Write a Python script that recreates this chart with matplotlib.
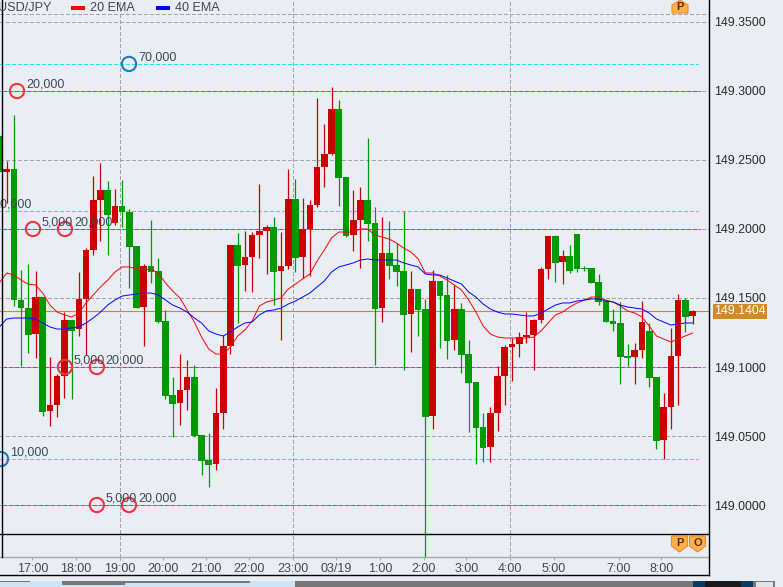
import matplotlib
matplotlib.use('Agg')
import matplotlib.pyplot as plt
from matplotlib.lines import Line2D
from matplotlib.patches import Polygon, Rectangle

W, H = 783, 587
BG = '#e9edf4'

opens = [149.2674, 149.2413, 149.2434, 149.1485, 149.1427, 149.1239, 149.1507, 149.0681, 149.0725, 149.0935,
         149.1341, 149.1275, 149.1492, 149.1847, 149.2210, 149.2282, 149.2043, 149.2167, 149.2123, 149.1877,
         149.1435, 149.1731, 149.1695, 149.1333, 149.0797, 149.0739, 149.0833, 149.0928, 149.0507, 149.0326,
         149.0297, 149.0667, 149.1152, 149.1884, 149.1739, 149.1797, 149.1956, 149.1985, 149.2014, 149.1695,
         149.1731, 149.2217, 149.1797, 149.2000, 149.2174, 149.2449, 149.2543, 149.2869, 149.2377, 149.1956,
         149.2065, 149.2210, 149.2043, 149.1427, 149.1826, 149.1739, 149.1695, 149.1384, 149.1565, 149.1420,
         149.0645, 149.1623, 149.1522, 149.1196, 149.1420, 149.1094, 149.0891, 149.0565, 149.0420, 149.0667,
         149.0935, 149.1145, 149.1167, 149.1217, 149.1232, 149.1341, 149.1710, 149.1949, 149.1761, 149.1804,
         149.1964, 149.1717, 149.1717, 149.1616, 149.1478, 149.1333, 149.1319, 149.1080, 149.1072, 149.1123,
         149.1261, 149.0928, 149.0471, 149.0710, 149.1080, 149.1485, 149.1370]
highs = [149.2674, 149.2493, 149.2826, 149.1702, 149.1746, 149.1695, 149.1507, 149.1073, 149.0949, 149.1399,
         149.1341, 149.1688, 149.1862, 149.2384, 149.2478, 149.2348, 149.2289, 149.2355, 149.2144, 149.1877,
         149.1746, 149.2065, 149.1790, 149.1413, 149.0928, 149.1094, 149.1051, 149.1014, 149.0507, 149.0522,
         149.0848, 149.1232, 149.1884, 149.1971, 149.1985, 149.1978, 149.2326, 149.2029, 149.2087, 149.1978,
         149.2435, 149.2362, 149.2225, 149.2210, 149.2949, 149.2761, 149.3029, 149.2935, 149.2377, 149.2282,
         149.2304, 149.2659, 149.2159, 149.2087, 149.2058, 149.1898, 149.2130, 149.1695, 149.1565, 149.1493,
         149.1703, 149.1623, 149.1667, 149.1594, 149.1464, 149.1196, 149.0891, 149.0667, 149.0710, 149.1007,
         149.1159, 149.1210, 149.1254, 149.1398, 149.1348, 149.1725, 149.1949, 149.1956, 149.1848, 149.1884,
         149.1964, 149.1731, 149.1717, 149.1674, 149.1478, 149.1420, 149.1471, 149.1167, 149.1174, 149.1478,
         149.1319, 149.0928, 149.0812, 149.1283, 149.1529, 149.1500, 149.1413]
lows = [149.2413, 149.2188, 149.1442, 149.1007, 149.1101, 149.1066, 149.0645, 149.0572, 149.0638, 149.0776,
        149.0768, 149.1225, 149.1087, 149.1811, 149.1913, 149.1811, 149.2029, 149.2014, 149.1572, 149.1427,
        149.1152, 149.1608, 149.1320, 149.0768, 149.0493, 149.0580, 149.0688, 149.0493, 149.0217, 149.0130,
        149.0254, 149.0551, 149.1094, 149.1319, 149.1551, 149.1543, 149.1790, 149.1674, 149.1449, 149.1196,
        149.1710, 149.1688, 149.1645, 149.1659, 149.2159, 149.2304, 149.2535, 149.2167, 149.1942, 149.1840,
        149.1717, 149.1913, 149.1014, 149.1326, 149.1638, 149.1587, 149.0978, 149.1109, 149.1225, 148.9623,
        149.0551, 149.1138, 149.1058, 149.1123, 149.0956, 149.0529, 149.0297, 149.0312, 149.0312, 149.0536,
        149.0725, 149.0899, 149.1072, 149.1174, 149.0978, 149.1319, 149.1638, 149.1616, 149.1601, 149.1681,
        149.1688, 149.1695, 149.1609, 149.1449, 149.1326, 149.1261, 149.0877, 149.1007, 149.0877, 149.1065,
        149.0855, 149.0406, 149.0333, 149.0551, 149.0725, 149.1254, 149.1312]
closes = [149.2413, 149.2434, 149.1485, 149.1427, 149.1232, 149.1507, 149.0674, 149.0725, 149.0935, 149.1341,
          149.1261, 149.1492, 149.1847, 149.2210, 149.2282, 149.2101, 149.2167, 149.2123, 149.1869, 149.1427,
          149.1731, 149.1688, 149.1327, 149.0790, 149.0732, 149.0833, 149.0928, 149.0500, 149.0319, 149.0290,
          149.0667, 149.1152, 149.1884, 149.1731, 149.1797, 149.1956, 149.1985, 149.2014, 149.1688, 149.1731,
          149.2217, 149.1790, 149.2000, 149.2174, 149.2449, 149.2543, 149.2869, 149.2369, 149.1949, 149.2065,
          149.2210, 149.2036, 149.1420, 149.1826, 149.1731, 149.1688, 149.1377, 149.1565, 149.1413, 149.0638,
          149.1623, 149.1514, 149.1188, 149.1420, 149.1087, 149.0884, 149.0558, 149.0413, 149.0667, 149.0935,
          149.1145, 149.1167, 149.1217, 149.1232, 149.1341, 149.1710, 149.1949, 149.1754, 149.1804, 149.1695,
          149.1710, 149.1710, 149.1609, 149.1471, 149.1326, 149.1312, 149.1072, 149.1065, 149.1123, 149.1326,
          149.0920, 149.0464, 149.0710, 149.1080, 149.1485, 149.1362, 149.1404]
ema20 = [149.1609, 149.1681, 149.1667, 149.1630, 149.1601, 149.1594, 149.1536, 149.1449, 149.1398, 149.1377,
         149.1362, 149.1391, 149.1464, 149.1522, 149.1580, 149.1630, 149.1688, 149.1725, 149.1725, 149.1710,
         149.1703, 149.1710, 149.1681, 149.1609, 149.1551, 149.1500, 149.1413, 149.1326, 149.1217, 149.1130,
         149.1094, 149.1094, 149.1145, 149.1225, 149.1268, 149.1333, 149.1442, 149.1471, 149.1485, 149.1500,
         149.1565, 149.1601, 149.1638, 149.1674, 149.1768, 149.1848, 149.1935, 149.1978, 149.1978, 149.1978,
         149.2000, 149.2000, 149.1956, 149.1942, 149.1927, 149.1898, 149.1862, 149.1833, 149.1783, 149.1681,
         149.1681, 149.1659, 149.1630, 149.1594, 149.1558, 149.1485, 149.1398, 149.1297, 149.1239, 149.1217,
         149.1210, 149.1210, 149.1210, 149.1210, 149.1217, 149.1261, 149.1319, 149.1377, 149.1398, 149.1435,
         149.1464, 149.1485, 149.1507, 149.1507, 149.1485, 149.1471, 149.1442, 149.1406, 149.1391, 149.1362,
         149.1297, 149.1225, 149.1203, 149.1181, 149.1203, 149.1225, 149.1246]
ema40 = [149.1290, 149.1348, 149.1355, 149.1355, 149.1355, 149.1348, 149.1319, 149.1290, 149.1275, 149.1275,
         149.1283, 149.1290, 149.1319, 149.1355, 149.1398, 149.1449, 149.1485, 149.1514, 149.1522, 149.1529,
         149.1536, 149.1536, 149.1522, 149.1485, 149.1449, 149.1427, 149.1398, 149.1355, 149.1319, 149.1261,
         149.1239, 149.1225, 149.1254, 149.1290, 149.1319, 149.1326, 149.1377, 149.1406, 149.1413, 149.1427,
         149.1456, 149.1478, 149.1507, 149.1536, 149.1580, 149.1623, 149.1688, 149.1725, 149.1739, 149.1754,
         149.1775, 149.1783, 149.1775, 149.1775, 149.1775, 149.1775, 149.1754, 149.1739, 149.1725, 149.1674,
         149.1667, 149.1667, 149.1645, 149.1623, 149.1601, 149.1543, 149.1507, 149.1456, 149.1420, 149.1398,
         149.1384, 149.1384, 149.1377, 149.1370, 149.1370, 149.1391, 149.1420, 149.1449, 149.1464, 149.1464,
         149.1478, 149.1485, 149.1493, 149.1493, 149.1478, 149.1471, 149.1449, 149.1435, 149.1427, 149.1420,
         149.1391, 149.1348, 149.1326, 149.1304, 149.1312, 149.1319, 149.1319]

tick_pos = [4.56, 10.61, 16.66, 22.62, 28.6, 34.6, 40.7, 46.66, 52.7, 58.8, 64.67, 70.76, 76.77, 85.8, 91.7]
tick_labels = ['17:00', '18:00', '19:00', '20:00', '21:00', '22:00', '23:00', '03/19', '1:00', '2:00',
               '3:00', '4:00', '5:00', '7:00', '8:00']
grid_x = [16.66, 40.7, 70.76]
price_ticks = [149.0, 149.05, 149.1, 149.15, 149.2, 149.25, 149.3, 149.35]
last_price = 149.1404
magenta_levels = [149.0, 149.1, 149.2, 149.3]
cyan_levels = [149.0333, 149.2130, 149.3196]

order_x = [2.44, 4.65, 9.08, 9.08, 13.5, 13.5, 17.95, 17.95, -2.06, 0.22]
order_y = [149.3, 149.2, 149.2, 149.1, 149.1, 149.0, 149.0, 149.3196, 149.2130, 149.0333]
order_lbl = ['20,000', '5,000', '20,000', '5,000', '20,000', '5,000', '20,000', '70,000', '10,000', '10,000']
order_col = ['#f4333c', '#f4333c', '#f4333c', '#f4333c', '#f4333c', '#f4333c', '#f4333c',
             '#1f78c8', '#1f78c8', '#1f78c8']

plt.rcParams['font.family'] = ['Liberation Sans', 'DejaVu Sans']
TXT = '#3f4858'

fig = plt.figure(figsize=(W / 100, H / 100), dpi=100, facecolor=BG)
ax = fig.add_axes([0, (H - 557) / H, 708.5 / W, 557 / H], facecolor=BG)


def fx(x):
    return x / W


def fy(y):
    return 1 - y / H


def hline_px(x1, x2, y, color='black', lw=1.0):
    fig.add_artist(Line2D([fx(x1), fx(x2)], [fy(y), fy(y)], color=color, lw=lw))


def vline_px(x, y1, y2, color='black', lw=1.0):
    fig.add_artist(Line2D([fx(x), fx(x)], [fy(y1), fy(y2)], color=color, lw=lw))


def rect_px(x1, y1, x2, y2, color):
    fig.add_artist(Rectangle((fx(x1), fy(y2)), (x2 - x1) / W, (y2 - y1) / H, color=color, lw=0))


def badge(x, y, letter, down=True):
    # little orange P / O flag, 16 px wide
    if down:
        pts = [(x - 8, y), (x + 8, y), (x + 8, y + 10), (x, y + 16), (x - 8, y + 10)]
        ty = y + 6.5
    else:
        pts = [(x, y), (x + 8, y + 5), (x + 8, y + 13), (x - 8, y + 13), (x - 8, y + 5)]
        ty = y + 7
    fig.add_artist(Polygon([(fx(a), fy(b)) for a, b in pts], closed=True, fc='#ffb04a', ec='#f08a30', lw=0.8))
    fig.text(fx(x), fy(ty), letter, ha='center', va='center', fontsize=8, fontweight='bold', color='#5a2d00')


dash = (0, (3, 2))
ax.set_xlim(0.083, 98.21)
ax.set_ylim(148.96232, 149.36594)

ax.grid(axis='y', color='#a3a3a3', lw=0.75, ls=dash, zorder=1, antialiased=False)
ax.axhline(149.3558, color='#a3a3a3', lw=0.75, ls=dash, zorder=1, antialiased=False)
for gx in grid_x:
    ax.axvline(gx, color='#a3a3a3', lw=0.75, ls=dash, zorder=1, antialiased=False)
ax.set_axisbelow(True)

for lv in magenta_levels:
    ax.plot([0.5, 97], [lv, lv], color='#e818e8', lw=0.75, ls=dash, zorder=1.5, antialiased=False)
for lv in cyan_levels:
    ax.plot([0.083, 96.8], [lv, lv], color='#18eaea', lw=0.75, ls=dash, zorder=1.5, antialiased=False)
ax.axhline(last_price, color='#c98a2e', lw=0.8, zorder=1.7)

for i in range(len(opens)):
    col = '#cc0000' if closes[i] >= opens[i] else '#009900'
    ax.vlines(i, lows[i], highs[i], color=col, lw=0.9, zorder=3)
    ax.bar(i, abs(closes[i] - opens[i]), bottom=min(opens[i], closes[i]), width=0.92, color=col, lw=0, zorder=3)

xs = list(range(len(ema20)))
ax.plot(xs, ema20, color='#ff0000', lw=0.7, zorder=4)
ax.plot(xs, ema40, color='#0000ff', lw=0.7, zorder=4.2)

ax.scatter(order_x, order_y, s=105, facecolors='none', edgecolors=order_col, linewidths=1.5, zorder=5)
for ox, oy, lbl in zip(order_x, order_y, order_lbl):
    ax.annotate(lbl, (ox, oy), xytext=(6.4, 5), textcoords='offset points', fontsize=9,
                color=TXT, va='center', ha='left', zorder=6, annotation_clip=False)

for s in ['top', 'left', 'right']:
    ax.spines[s].set_visible(False)
ax.spines['bottom'].set_color('#a8a8a8')
ax.spines['bottom'].set_linewidth(1.0)
ax.set_xticks(tick_pos, tick_labels)
ax.tick_params(axis='x', length=2, width=0.8, color='#a8a8a8', labelsize=9, labelcolor=TXT, pad=2.5)
ax.yaxis.tick_right()
ax.set_yticks(price_ticks, ['%.4f' % p for p in price_ticks])
ax.tick_params(axis='y', length=0, labelsize=8.9, labelcolor='#2b2b2b', pad=4)

# price tag for the last quote
ax.annotate('%.4f' % last_price, (1, last_price), xycoords=('axes fraction', 'data'), xytext=(4, 0),
            textcoords='offset points', fontsize=8.9, color='white', va='center', ha='left', zorder=7,
            bbox=dict(boxstyle='square,pad=0.12', fc='#d08a26', ec='none'), annotation_clip=False)

# frame lines
vline_px(1.5, 0, 557)
vline_px(708.5, 0, 574.5)
hline_px(0, 708.5, 533.5)
hline_px(0, 708.5, 574.5)

# legend row
fig.text(fx(-2), fy(8), 'USD/JPY', fontsize=9.1, color=TXT, va='center', ha='left')
rect_px(71, 6.5, 85, 9.5, '#ff0000')
fig.text(fx(90.5), fy(8), '20 EMA', fontsize=9.1, color=TXT, va='center', ha='left')
rect_px(156, 6.5, 170, 9.5, '#0000ff')
fig.text(fx(175), fy(8), '40 EMA', fontsize=9.1, color=TXT, va='center', ha='left')

badge(680, 0, 'P', down=False)
badge(679.5, 536, 'P')
badge(697.5, 536, 'O')

# navigator strip at the bottom
rect_px(0, 581, 693, 587, '#777777')
rect_px(0, 581, 295, 587, '#cfe3f6')
rect_px(0, 581, 30, 582, '#777777')
rect_px(62, 581, 125, 585, '#777777')
rect_px(125, 581, 250, 583, '#777777')
rect_px(693, 581, 705, 587, '#0b3a66')
rect_px(705, 581, 741, 587, '#1a1a1a')
rect_px(741, 581, 753, 587, '#0b3a66')
rect_px(753, 581, 775, 587, '#777777')
rect_px(756, 582, 773, 587, '#e0e3ea')

fig.savefig('out.png', dpi=100, facecolor=BG)
